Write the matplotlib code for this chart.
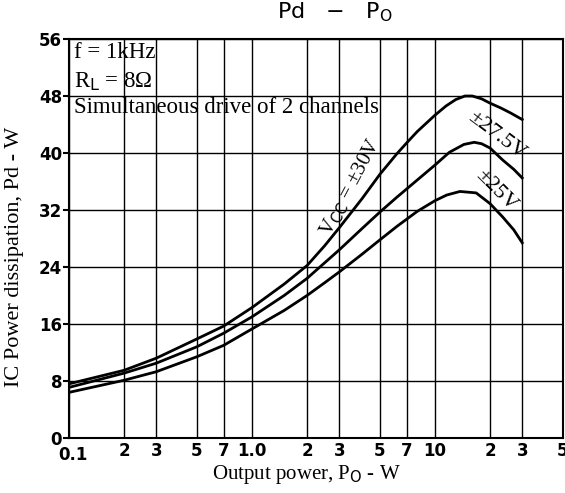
import matplotlib.pyplot as plt
import matplotlib.transforms as mtransforms
import numpy as np

# output power (W) vs IC dissipation (W)
po_30 = [0.1, 0.2, 0.3, 0.5, 0.7, 1.0, 1.5, 2.0, 2.5, 3.0, 4.0, 5.0, 6.2, 7.0, 8.0,
         10.0, 11.5, 13.0, 14.6, 16.0, 18.0, 20.0, 23.0, 26.0, 30.0]
pd_30 = [7.6, 9.5, 11.2, 13.9, 15.7, 18.3, 21.6, 24.2, 27.0, 29.5, 33.6, 37.0, 39.9, 41.4, 43.0,
         45.3, 46.6, 47.5, 48.0, 48.0, 47.6, 47.0, 46.3, 45.6, 44.7]

po_275 = [0.1, 0.2, 0.3, 0.5, 0.7, 1.0, 1.5, 2.0, 2.5, 3.0, 4.0, 5.0, 6.2, 8.0,
          10.0, 12.0, 14.4, 16.4, 18.0, 20.0, 23.5, 27.0, 30.0]
pd_275 = [7.1, 9.1, 10.5, 12.8, 14.7, 17.0, 20.0, 22.4, 24.6, 26.4, 29.4, 31.7, 33.8, 36.2,
          38.3, 40.1, 41.2, 41.5, 41.3, 40.7, 39.0, 37.7, 36.5]

po_25 = [0.1, 0.2, 0.3, 0.5, 0.7, 1.0, 1.5, 2.0, 2.5, 3.0, 4.0, 5.0, 6.2, 8.0,
         10.0, 11.6, 13.7, 16.8, 20.0, 23.5, 27.0, 30.0]
pd_25 = [6.4, 8.1, 9.3, 11.4, 13.0, 15.3, 17.9, 20.0, 21.8, 23.3, 25.8, 27.8, 29.7, 31.8,
         33.3, 34.1, 34.6, 34.4, 32.9, 31.0, 29.2, 27.4]

x_ticks = [0.1, 0.2, 0.3, 0.5, 0.7, 1.0, 2, 3, 5, 7, 10, 20, 30, 50]
x_labels = ['0.1', '2', '3', '5', '7', '1.0', '2', '3', '5', '7', '10', '2', '3', '5']
y_ticks = [0, 8, 16, 24, 32, 40, 48, 56]

serif = 'Liberation Serif'

fig = plt.figure(figsize=(5.65, 4.93), dpi=100)
ax = fig.add_axes([0.1221, 0.1116, 0.874, 0.8093])

ax.plot(po_30, pd_30, color='black', lw=2.0)
ax.plot(po_275, pd_275, color='black', lw=2.0)
ax.plot(po_25, pd_25, color='black', lw=2.0)

ax.set_xscale('log')
ax.set_xlim(0.1, 50)
ax.set_ylim(0, 56)
ax.set_xticks(x_ticks)
ax.set_xticklabels(x_labels)
ax.xaxis.set_minor_locator(plt.NullLocator())
ax.set_yticks(y_ticks)
ax.grid(True, color='black', lw=1.0)
for s in ax.spines.values():
    s.set_linewidth(1.5)

ax.tick_params(axis='x', length=0, pad=3, labelsize=12)
ax.tick_params(axis='y', length=4, width=1.5, pad=1, labelsize=12)
for lab in ax.get_xticklabels() + ax.get_yticklabels():
    lab.set_fontweight('bold')
    lab.set_fontfamily('DejaVu Sans')

# the "0.1" label sits a little right of and below its grid line
first = ax.get_xticklabels()[0]
first.set_transform(first.get_transform() + mtransforms.ScaledTranslation(4 / 100, -4 / 100, fig.dpi_scale_trans))

fig.text(15 / 565, 1 - 257 / 493, 'IC Power dissipation, Pd - W', fontfamily=serif,
         fontsize=16, rotation=90, ha='center', va='center')
fig.text(306 / 565, 1 - 475 / 493, 'Output power, P$_\\mathrm{O}$ - W', fontfamily=serif,
         fontsize=15, ha='center', va='center')

fig.text(0.593, 0.975, 'Pd   \u2212   P$_\\mathrm{O}$', ha='center', va='center',
         fontsize=16, fontfamily='DejaVu Sans')

ax.text(0.107, 55.6, 'f = 1kHz', fontfamily=serif, fontsize=16.5, va='top')
ax.text(0.107, 51.6, 'R$_\\mathrm{L}$ = 8\u03a9', fontfamily=serif, fontsize=16.5, va='top')
ax.text(0.107, 47.8, 'Simultaneous drive of 2 channels', fontfamily=serif, fontsize=16.5, va='top')

ax.text(3.45, 35.2, 'V$_\\mathrm{CC}$ = \u00b130V', fontfamily=serif, fontsize=15,
        rotation=62, ha='center', va='center')
ax.text(21.7, 42.5, '\u00b127.5V', fontfamily=serif, fontsize=16,
        rotation=-37, ha='center', va='center')
ax.text(21.7, 34.7, '\u00b125V', fontfamily=serif, fontsize=16,
        rotation=-45, ha='center', va='center')

fig.savefig('out.png', dpi=100)
